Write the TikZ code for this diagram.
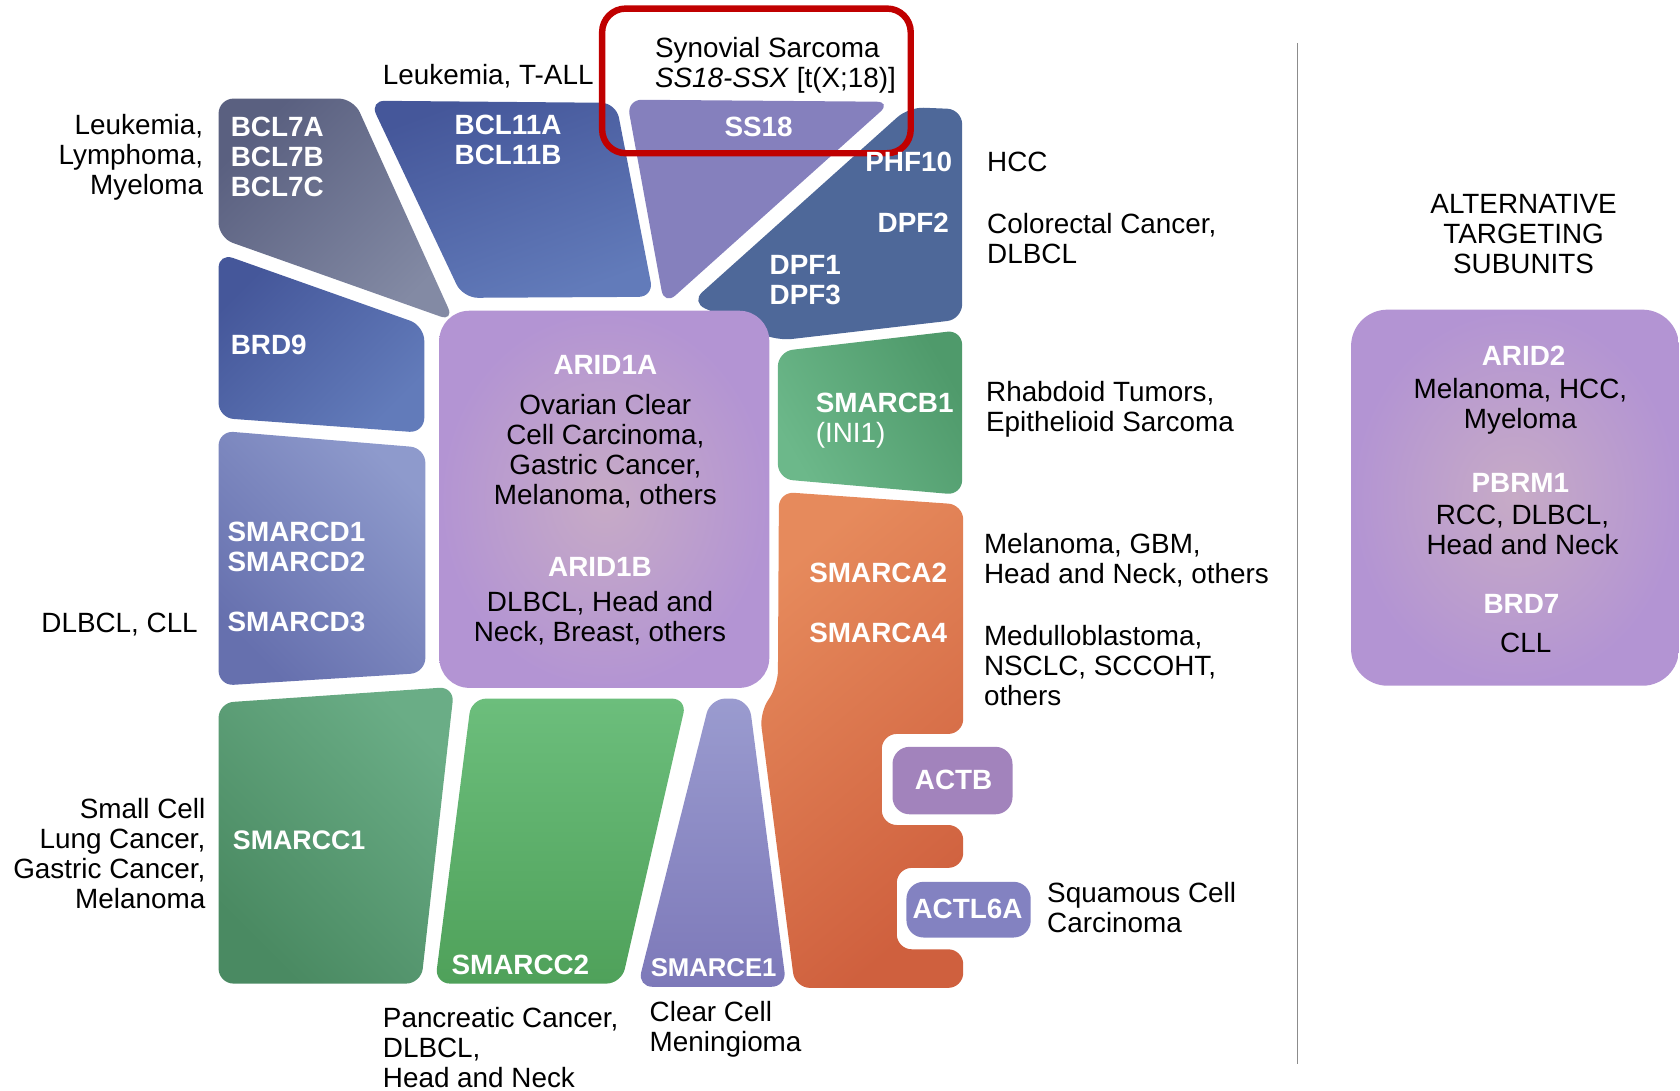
\documentclass[tikz,border=0pt]{standalone}
\usepackage{fontspec}
\setmainfont{Liberation Sans}
\usetikzlibrary{shapes.misc}
\definecolor{cBCLa}{HTML}{5A6080}
\definecolor{cBCLb}{HTML}{838AA4}
\definecolor{cBlueA}{HTML}{45579A}
\definecolor{cBlueB}{HTML}{627BBA}
\definecolor{cSS}{HTML}{8580BD}
\definecolor{cDPF}{HTML}{4E6899}
\definecolor{cArOut}{HTML}{B394D3}
\definecolor{cArIn}{HTML}{C7ABC6}
\definecolor{cGrA}{HTML}{4F9A6B}
\definecolor{cGrB}{HTML}{6CB88A}
\definecolor{cOrA}{HTML}{E68A5C}
\definecolor{cOrB}{HTML}{CF603E}
\definecolor{cSDa}{HTML}{8E9ACC}
\definecolor{cSDb}{HTML}{6670AE}
\definecolor{cC1a}{HTML}{6AAD86}
\definecolor{cC1b}{HTML}{4A8A62}
\definecolor{cC2a}{HTML}{6CBE7C}
\definecolor{cC2b}{HTML}{4FA15A}
\definecolor{cE1a}{HTML}{9A9BCF}
\definecolor{cE1b}{HTML}{7D79B9}
\definecolor{cACTB}{HTML}{A283BC}
\definecolor{cACTL}{HTML}{8382C1}
\definecolor{cRed}{HTML}{C00000}
\begin{document}
\begin{tikzpicture}[x=0.5pt,y=-0.5pt,
  lbl/.style={font=\fontsize{13}{14}\selectfont, inner sep=0pt, text=black},
  wlbl/.style={font=\fontsize{13}{14}\selectfont\bfseries, inner sep=0pt, text=white},
  blob/.style={rounded corners=7pt}]
\useasboundingbox (0,0) rectangle (1568,1018);
% ---- shapes ----
\shade[blob, top color=cBCLa, bottom color=cBCLb, shading angle=45]
  (204,92) -- (330,92) -- (424,300) -- (204,222) -- cycle;
\shade[blob, top color=cBlueA, bottom color=cBlueB, shading angle=20]
  (345,94) -- (575,96) -- (610,277) -- (432,278) -- cycle;
\shade[blob, top color=cBlueA, bottom color=cBlueB, shading angle=45]
  (204,236) -- (396,304) -- (396,404) -- (204,390) -- cycle;
\fill[blob, cSS] (585,93) -- (832,95) -- (620,285) -- cycle;
\fill[blob, cDPF] (848,100) -- (898,102) -- (898,298) -- (725,318) -- (645,282) -- cycle;
\shade[rounded corners=14pt, inner color=cArIn, outer color=cArOut] (410,290) rectangle (718,642);
\shade[blob, top color=cGrA, bottom color=cGrB, shading angle=-60]
  (726,328) -- (898,308) -- (898,462) -- (726,447) -- cycle;
\shade[blob, top color=cOrA, bottom color=cOrB, shading angle=40]
  (727,459) -- (899,471) -- (899,685) -- (823,685) -- (823,770) -- (899,770) -- (899,810)
  -- (837,810) -- (837,886) -- (899,886) -- (899,922) -- (742,922) -- (709,665) -- (726,640) -- cycle;
\fill[rounded corners=8pt, cACTB] (833,697) rectangle (945,760);
\fill[rounded corners=8pt, cACTL] (846,823) rectangle (962,875);
\shade[blob, top color=cSDa, bottom color=cSDb, shading angle=-45]
  (204,402) -- (397,418) -- (397,628) -- (204,640) -- cycle;
\shade[blob, top color=cC1a, bottom color=cC1b, shading angle=-45]
  (204,656) -- (424,641) -- (393,918) -- (204,918) -- cycle;
\shade[blob, top color=cC2a, bottom color=cC2b]
  (440,652) -- (641,652) -- (580,918) -- (406,918) -- cycle;
\shade[rounded corners=8pt, top color=cE1a, bottom color=cE1b]
  (663,652) -- (699,652) [rounded corners=7pt] -- (734,921) -- (595,921) -- cycle;
\shade[rounded corners=17pt, inner color=cArIn, outer color=cArOut] (1261,289) rectangle (1567,640);
% divider
\coordinate (vtop) at (1211,40);
\coordinate (vbot) at (1211,993);
\draw[black!45, line width=0.8pt] (vtop) -- (vbot);
% highlight box
\node[draw=cRed, line width=3pt, rounded corners=11pt, minimum width=144pt, minimum height=67.5pt, inner sep=0pt] (hl) at (706,75.5) {};
% ---- labels inside shapes ----
\node[wlbl, anchor=west, align=left] (bcl7) at (215,146) {BCL7A\\BCL7B\\BCL7C};
\node[wlbl, anchor=west, align=left] (bcl11) at (424,131) {BCL11A\\BCL11B};
\node[wlbl] (ss18) at (708,118) {SS18};
\node[wlbl, anchor=east] (phf10) at (889,151) {PHF10};
\node[wlbl, anchor=east] (dpf2) at (886,208) {DPF2};
\node[wlbl, anchor=west, align=left] (dpf13) at (718,261) {DPF1\\DPF3};
\node[wlbl, anchor=west] (brd9) at (215,322) {BRD9};
\node[wlbl] (arid1a) at (565,341) {ARID1A};
\node[lbl, align=center] (arid1ad) at (565,421) {Ovarian Clear\\Cell Carcinoma,\\Gastric Cancer,\\Melanoma, others};
\node[wlbl] (arid1b) at (560,529) {ARID1B};
\node[lbl, align=center] (arid1bd) at (560,577) {DLBCL, Head and\\Neck, Breast, others};
\node[wlbl, anchor=west, align=left] (smarcb1) at (761,393) {SMARCB1\\\normalfont(INI1)};
\node[wlbl, anchor=west, align=left] (smarcd12) at (212,510) {SMARCD1\\SMARCD2};
\node[wlbl, anchor=west] (smarcd3) at (212,580) {SMARCD3};
\node[wlbl, anchor=west] (smarca2) at (755,535) {SMARCA2};
\node[wlbl, anchor=west] (smarca4) at (755,591) {SMARCA4};
\node[wlbl] (actb) at (890,728) {ACTB};
\node[wlbl] (actl6a) at (903,848) {ACTL6A};
\node[wlbl, anchor=west, font=\fontsize{12.5}{14}\selectfont\bfseries] (smarcc1) at (217,784) {SMARCC1};
\node[wlbl, anchor=west] (smarcc2) at (421,901) {SMARCC2};
\node[wlbl, anchor=west, font=\fontsize{12}{14}\selectfont\bfseries] (smarce1) at (607,903) {SMARCE1};
% ---- outside labels ----
\node[lbl, anchor=east, align=right] (leuk) at (190,147) {Leukemia,\\Lymphoma,\\Myeloma};
\node[lbl, anchor=west] (tall) at (357,71) {Leukemia, T-ALL};
\node[lbl, anchor=west, align=left] (synov) at (611,61) {Synovial Sarcoma\\\textit{SS18-SSX} [t(X;18)]};
\node[lbl, anchor=west] (hcc) at (921,151) {HCC};
\node[lbl, anchor=west, align=left] (crc) at (921,223) {Colorectal Cancer,\\DLBCL};
\node[lbl, anchor=west, align=left] (rhab) at (920,382) {Rhabdoid Tumors,\\Epithelioid Sarcoma};
\node[lbl, anchor=west, align=left] (mel) at (918,523) {Melanoma, GBM,\\Head and Neck, others};
\node[lbl, anchor=west, align=left] (medu) at (918,621) {Medulloblastoma,\\NSCLC, SCCOHT,\\others};
\node[lbl, anchor=east] (dlcll) at (185,583) {DLBCL, CLL};
\node[lbl, anchor=east, align=right] (sclc) at (192,797) {Small Cell\\Lung Cancer,\\Gastric Cancer,\\Melanoma};
\node[lbl, anchor=west, align=left] (squam) at (977,847) {Squamous Cell\\Carcinoma};
\node[lbl, anchor=west, align=left] (panc) at (357,978) {Pancreatic Cancer,\\DLBCL,\\Head and Neck};
\node[lbl, anchor=west, align=left] (menin) at (606,961) {Clear Cell\\Meningioma};
\node[lbl, align=center] (alt) at (1422,218) {ALTERNATIVE\\TARGETING\\SUBUNITS};
\node[wlbl] (arid2) at (1422,332) {ARID2};
\node[lbl, align=center] (arid2d) at (1419,379) {Melanoma, HCC,\\Myeloma};
\node[wlbl] (pbrm1) at (1419,451) {PBRM1};
\node[lbl, align=center] (pbrm1d) at (1421,495) {RCC, DLBCL,\\Head and Neck};
\node[wlbl] (brd7) at (1420,564) {BRD7};
\node[lbl] (cll) at (1424,600) {CLL};
\end{tikzpicture}
\end{document}
